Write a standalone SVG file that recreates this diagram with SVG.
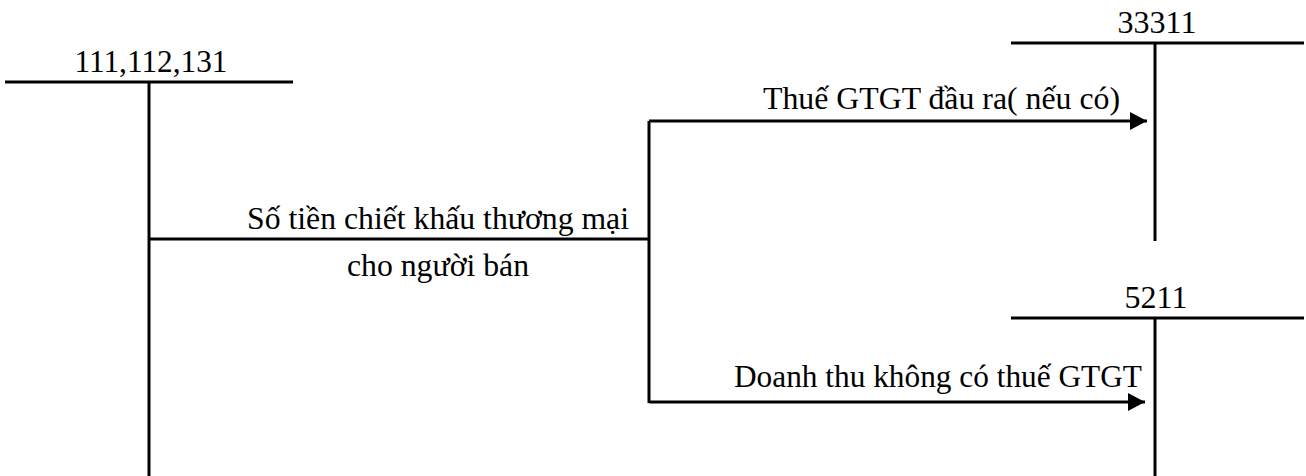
<svg xmlns="http://www.w3.org/2000/svg" width="1306" height="476" viewBox="0 0 1306 476">
  <style>
    .ln { stroke: #000; stroke-width: 3; fill: none; }
    .tx { font-family: "Liberation Serif", "Times New Roman", serif; font-size: 32px; fill: #000; }
    .mid { text-anchor: middle; }
  </style>
  <defs>
    <marker id="arrow" markerUnits="userSpaceOnUse" markerWidth="18" markerHeight="18" refX="17" refY="9" orient="auto">
      <path d="M0,0 L17,9 L0,18 Z" fill="#000"/>
    </marker>
  </defs>

  <!-- T-account 111,112,131 -->
  <g id="acc-111">
    <line class="ln" x1="5" y1="82" x2="293" y2="82"/>
    <line class="ln" x1="149" y1="82" x2="149" y2="476"/>
    <text class="tx mid" x="151" y="72" textLength="153" lengthAdjust="spacingAndGlyphs">111,112,131</text>
  </g>

  <!-- T-account 33311 -->
  <g id="acc-33311">
    <line class="ln" x1="1011" y1="43" x2="1304" y2="43"/>
    <line class="ln" x1="1155" y1="43" x2="1155" y2="241"/>
    <text class="tx mid" x="1157" y="33">33311</text>
  </g>

  <!-- T-account 5211 -->
  <g id="acc-5211">
    <line class="ln" x1="1011" y1="318" x2="1304" y2="318"/>
    <line class="ln" x1="1155" y1="318" x2="1155" y2="476"/>
    <text class="tx mid" x="1156" y="308">5211</text>
  </g>

  <!-- Entries -->
  <g id="connectors">
    <line class="ln" x1="149" y1="239" x2="649" y2="239"/>
    <line class="ln" x1="649" y1="121" x2="649" y2="403"/>
    <line class="ln" x1="649" y1="121" x2="1147" y2="121" marker-end="url(#arrow)"/>
    <line class="ln" x1="649" y1="402" x2="1145" y2="402" marker-end="url(#arrow)"/>
  </g>

  <g id="labels">
    <text class="tx" x="247" y="229" textLength="382" lengthAdjust="spacingAndGlyphs">Số tiền chiết khấu thương mại</text>
    <text class="tx" x="347" y="276" textLength="182" lengthAdjust="spacingAndGlyphs">cho người bán</text>
    <text class="tx" x="763" y="109" textLength="357" lengthAdjust="spacingAndGlyphs">Thuế GTGT đầu ra( nếu có)</text>
    <text class="tx" x="734" y="387" textLength="408" lengthAdjust="spacingAndGlyphs">Doanh thu không có thuế GTGT</text>
  </g>
</svg>
